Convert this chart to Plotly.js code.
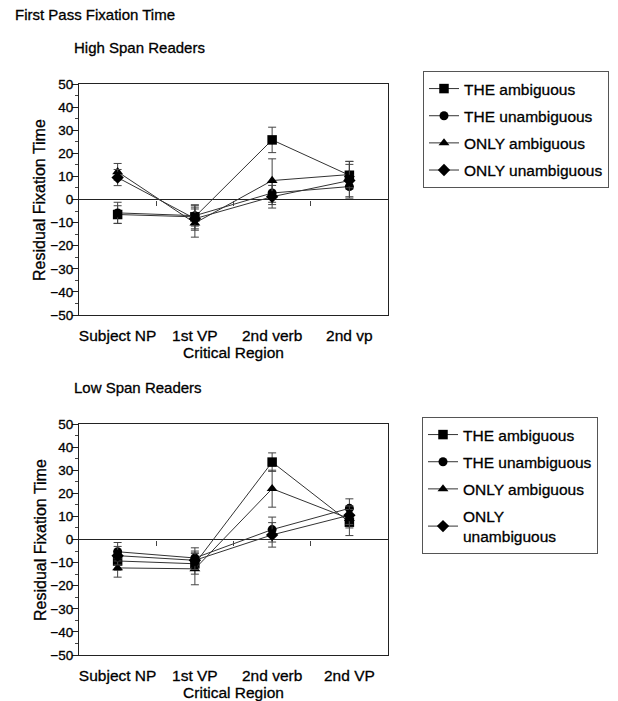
<!DOCTYPE html>
<html>
<head>
<meta charset="utf-8">
<script src="https://cdn.plot.ly/plotly-3.0.1.min.js"></script>
<style>
html,body{margin:0;padding:0;background:#fff;}
#chart{width:618px;height:701px;}
#chart svg text{stroke:#000;stroke-width:0.3px;}
</style>
</head>
<body>
<div id="chart"></div>
<script>
// ---- data ----
var regionsHigh = ["Subject NP", "1st VP", "2nd verb", "2nd vp"];
var regionsLow = ["Subject NP", "1st VP", "2nd verb", "2nd VP"];
var seriesNames = ["THE ambiguous", "THE unambiguous", "ONLY ambiguous", "ONLY unambiguous"];
var lowLegendNames = ["THE ambiguous", "THE unambiguous", "ONLY ambiguous", "ONLY<br>unambiguous"];

// High span readers
var highTheAmb = [-6.5, -7.5, 25.8, 10.5];
var highTheAmbErr = [3.8, 5.2, 5.5, 6.0];
var highTheUnamb = [-5.8, -7.0, 2.8, 5.6];
var highTheUnambErr = [4.6, 4.5, 5.0, 5.0];
var highOnlyAmb = [12.0, -10.2, 8.2, 10.8];
var highOnlyAmbErr = [3.6, 6.1, 9.4, 5.7];
var highOnlyUnamb = [9.5, -8.3, 1.2, 8.2];
var highOnlyUnambErr = [3.5, 5.0, 4.9, 7.0];

// Low span readers
var lowTheAmb = [-9.3, -10.5, 33.5, 7.5];
var lowTheAmbErr = [4.0, 4.5, 4.0, 5.8];
var lowTheUnamb = [-5.3, -8.0, 4.3, 13.5];
var lowTheUnambErr = [4.0, 4.4, 5.4, 4.1];
var lowOnlyAmb = [-12.3, -12.7, 22.0, 9.0];
var lowOnlyAmbErr = [4.0, 6.9, 8.0, 4.0];
var lowOnlyUnamb = [-7.0, -9.0, 2.0, 10.5];
var lowOnlyUnambErr = [4.0, 4.0, 5.3, 4.0];

var yTickVals = [50, 40, 30, 20, 10, 0, -10, -20, -30, -40, -50];
var yTitle = "Residual Fixation Time";
var xTitle = "Critical Region";

// ---- styling ----
var FONT = "Liberation Sans, Arial, sans-serif";
var symbols = ["square", "circle", "triangle-up", "diamond"];
var sizes = [9.5, 9, 9.5, 9.5];

function mk(x, y, err, i, xa, ya, name, leg) {
  return {
    type: "scatter", mode: "lines+markers",
    x: x, y: y, name: name, legend: leg, legendgroup: leg + "_" + i,
    xaxis: xa, yaxis: ya,
    line: {color: "#333", width: 1},
    marker: {symbol: symbols[i], size: sizes[i], color: "#000"},
    error_y: {type: "data", array: err, visible: true, color: "#444", thickness: 1, width: 4}
  };
}

var traces = [
  mk(regionsHigh, highTheAmb, highTheAmbErr, 0, "x", "y", seriesNames[0], "legend"),
  mk(regionsHigh, highTheUnamb, highTheUnambErr, 1, "x", "y", seriesNames[1], "legend"),
  mk(regionsHigh, highOnlyAmb, highOnlyAmbErr, 2, "x", "y", seriesNames[2], "legend"),
  mk(regionsHigh, highOnlyUnamb, highOnlyUnambErr, 3, "x", "y", seriesNames[3], "legend"),
  mk(regionsLow, lowTheAmb, lowTheAmbErr, 0, "x2", "y2", lowLegendNames[0], "legend2"),
  mk(regionsLow, lowTheUnamb, lowTheUnambErr, 1, "x2", "y2", lowLegendNames[1], "legend2"),
  mk(regionsLow, lowOnlyAmb, lowOnlyAmbErr, 2, "x2", "y2", lowLegendNames[2], "legend2"),
  mk(regionsLow, lowOnlyUnamb, lowOnlyUnambErr, 3, "x2", "y2", lowLegendNames[3], "legend2")
];

var W = 618, H = 701;
var xDom = [79 / W, 388 / W];
var yDomTop = [1 - 315 / H, 1 - 84 / H];
var yDomBot = [1 - 655 / H, 1 - 424 / H];

function xax(cats, dom, anchor) {
  return {
    domain: dom, anchor: anchor, type: "category", categoryarray: cats,
    range: [-0.5, 3.5], showline: true, linecolor: "#222", linewidth: 1,
    mirror: true, ticks: "", showgrid: false, zeroline: false,
    tickfont: {family: FONT, size: 15.5, color: "#000"},
    ticklabelstandoff: 6,
    title: {text: xTitle, font: {family: FONT, size: 15.5, color: "#000"}, standoff: 4}
  };
}
function yax(dom, anchor) {
  return {
    domain: dom, anchor: anchor, range: [-50, 50], tickvals: yTickVals,
    showline: true, linecolor: "#222", linewidth: 1, mirror: true,
    ticks: "outside", ticklen: 6, tickcolor: "#222",
    minor: {dtick: 5, ticks: "outside", ticklen: 3, tickcolor: "#444", showgrid: false},
    showgrid: false, zeroline: true, zerolinecolor: "#222", zerolinewidth: 1,
    tickfont: {family: FONT, size: 13.5, color: "#000"},
    ticklabelstandoff: -4
  };
}
// small tick marks at the category boundaries along the zero line
function bx(overlay, pos) {
  return {
    overlaying: overlay, anchor: "free", position: pos, domain: xDom,
    range: [-0.5, 3.5], tickvals: [0.5, 1.5, 2.5], ticks: "outside", ticklen: 5,
    tickcolor: "#444", showticklabels: false, showline: false, showgrid: false, zeroline: false
  };
}

var legendBase = {
  xanchor: "left", yanchor: "top", bordercolor: "#555", borderwidth: 1,
  bgcolor: "rgba(255,255,255,0)", font: {family: FONT, size: 15.5, color: "#000"},
  traceorder: "grouped", tracegroupgap: 4, itemclick: false
};

function txt(s, x, y, size, angle) {
  return {text: s, xref: "paper", yref: "paper", x: x / W, y: 1 - y / H,
    xanchor: angle ? "center" : "left", yanchor: "middle", showarrow: false,
    textangle: angle || 0, font: {family: FONT, size: size, color: "#000"}};
}

var layout = {
  width: W, height: H, margin: {l: 0, r: 0, t: 0, b: 0},
  paper_bgcolor: "#fff", plot_bgcolor: "#fff", showlegend: true,
  xaxis: xax(regionsHigh, xDom, "y"),
  yaxis: yax(yDomTop, "x"),
  xaxis2: xax(regionsLow, xDom, "y2"),
  yaxis2: yax(yDomBot, "x2"),
  xaxis3: bx("x", (yDomTop[0] + yDomTop[1]) / 2),
  xaxis4: bx("x2", (yDomBot[0] + yDomBot[1]) / 2),
  legend: Object.assign({}, legendBase, {x: 423 / W, y: 1 - 71 / H}),
  legend2: Object.assign({}, legendBase, {x: 422 / W, y: 1 - 417 / H}),
  annotations: [
    txt("First Pass Fixation Time", 13, 15, 15),
    txt("High Span Readers", 72, 47, 15),
    txt("Low Span Readers", 72, 387, 15),
    txt(yTitle, 40, 200, 16, -90),
    txt(yTitle, 40, 540, 16, -90)
  ]
};

// invisible helper traces so the boundary-tick axes exist
traces.push({type: "scatter", x: [0], y: [0], xaxis: "x3", yaxis: "y", mode: "markers",
  marker: {opacity: 0}, showlegend: false, hoverinfo: "skip"});
traces.push({type: "scatter", x: [0], y: [0], xaxis: "x4", yaxis: "y2", mode: "markers",
  marker: {opacity: 0}, showlegend: false, hoverinfo: "skip"});

Plotly.newPlot("chart", traces, layout, {displayModeBar: false, staticPlot: true});
</script>
</body>
</html>
